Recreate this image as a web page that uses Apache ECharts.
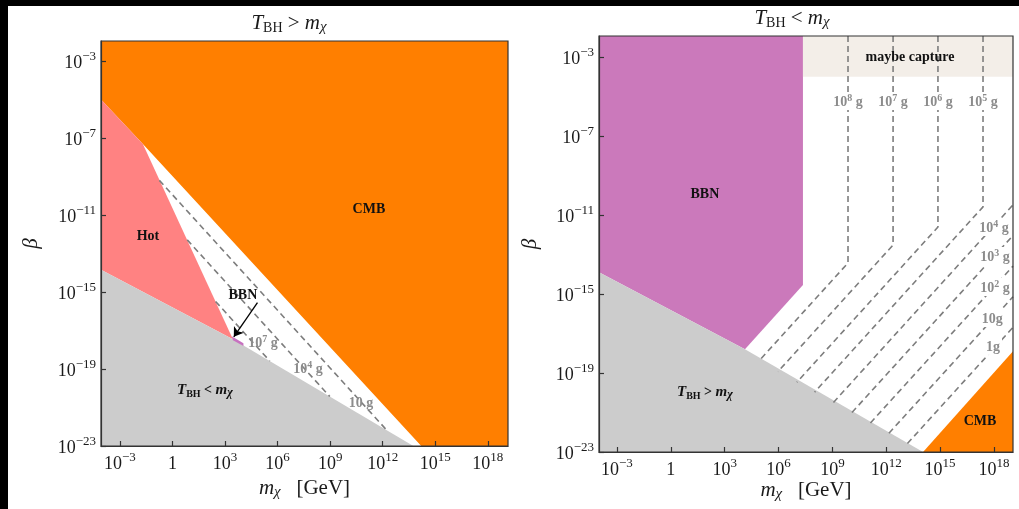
<!DOCTYPE html>
<html>
<head>
<meta charset="utf-8">
<script src="https://cdn.jsdelivr.net/npm/echarts@6/dist/echarts.min.js"></script>
<style>
html, body { margin: 0; padding: 0; background: #fff; }
#chart { width: 1019px; height: 509px; }
</style>
</head>
<body>
<div id="chart"></div>
<script>
// all values are log10: x = log10(m_chi / GeV), y = log10(beta)
const xTicks = [-3, 0, 3, 6, 9, 12, 15, 18]
const yTicks = [-23, -19, -15, -11, -7, -3]

// left panel: T_BH > m_chi
const cmbLeft = [[-4.08, -5.0], [-1.69, -7.31], [14.2, -23], [19.15, -23], [19.15, -1.96], [-4.08, -1.96]]
const hotLeft = [[-4.08, -5.0], [-1.69, -7.31], [3.45, -17.45], [-4.08, -13.85]]
const bbnLeft = [[3.38, -17.3], [4.05, -17.66], [4.05, -17.8], [3.45, -17.5]]
const coldLeft = [[-4.08, -13.85], [3.45, -17.45], [13.75, -23], [-4.08, -23]]
const line1e7Left = [[2.46, -15.49], [5.55, -18.58]]
const line1e4Left = [[0.84, -12.29], [8.98, -20.43]]
const line10Left = [[-0.75, -9.2], [12.23, -22.18]]
const arrowBBN = [[4.85, -15.55], [3.5, -17.33]]
const labelsLeft = [
  [11.21, -10.74, '{bd|CMB}'],
  [-1.4, -12.14, '{bd|Hot}'],
  [4.02, -15.21, '{bd|BBN}'],
  [1.85, -20.14, '{bi|T}{bs|BH}{bd| < }{bi|m}{bis|χ}'],
  [5.16, -17.6, '{g|10}{gs|7}{g| g}'],
  [7.73, -18.95, '{g|10}{gs|4}{g| g}'],
  [10.76, -20.71, '{g|10 g}']
]

// right panel: T_BH < m_chi
const bbnRight = [[-4, -1.94], [7.36, -1.94], [7.36, -14.54], [4.13, -17.8], [-4, -13.9]]
const captureRight = [[7.36, -1.94], [19.06, -1.94], [19.06, -4.0], [7.36, -4.0]]
const coldRight = [[-4, -13.9], [4.13, -17.8], [14.05, -23], [-4, -23]]
const cmbRight = [[14.05, -23], [19.06, -23], [19.06, -17.9]]
const line1e8Right = [[9.87, -1.94], [9.87, -13.43], [4.9, -18.4]]
const line1e7Right = [[12.38, -1.94], [12.38, -12.52], [5.97, -18.93]]
const line1e6Right = [[14.88, -1.94], [14.88, -11.61], [7.02, -19.47]]
const line1e5Right = [[17.39, -1.94], [17.39, -10.59], [8.01, -19.97]]
const line1e4Right = [[9.06, -20.49], [19.06, -10.49]]
const line1e3Right = [[10.09, -21.0], [19.06, -12.04]]
const line1e2Right = [[11.12, -21.53], [19.06, -13.59]]
const line10Right = [[12.15, -22.05], [19.06, -15.14]]
const line1Right = [[13.18, -22.57], [19.06, -16.69]]
const labelsRight = [
  [1.9, -9.99, '{bd|BBN}'],
  [13.32, -3.05, '{bd|maybe capture}'],
  [1.9, -20.01, '{bi|T}{bs|BH}{bd| > }{bi|m}{bis|χ}'],
  [17.22, -21.48, '{bd|CMB}'],
  [9.87, -5.23, '{g|10}{gs|8}{g| g}'],
  [12.38, -5.23, '{g|10}{gs|7}{g| g}'],
  [14.88, -5.23, '{g|10}{gs|6}{g| g}'],
  [17.39, -5.23, '{g|10}{gs|5}{g| g}'],
  [18.0, -11.61, '{g|10}{gs|4}{g| g}'],
  [18.06, -13.08, '{g|10}{gs|3}{g| g}'],
  [18.06, -14.65, '{g|10}{gs|2}{g| g}'],
  [17.9, -16.22, '{g|10g}'],
  [17.95, -17.63, '{g|1g}']
]

const serif = '"Liberation Serif", "DejaVu Serif", serif'
const ink = '#1a1a1a'
const dashGray = '#7d7d7d'
const labelGray = '#8c8c8c'

const tickRich = {
  b: {fontFamily: serif, fontSize: 18, color: ink, lineHeight: 22, verticalAlign: 'bottom'},
  s: {fontFamily: serif, fontSize: 13, color: ink, lineHeight: 13, verticalAlign: 'top'}
}
const mathRich = {
  i: {fontFamily: serif, fontStyle: 'italic', fontSize: 21, fill: ink, color: ink, lineHeight: 22, verticalAlign: 'top'},
  r: {fontFamily: serif, fontSize: 21, fill: ink, color: ink, lineHeight: 22, verticalAlign: 'top'},
  sub: {fontFamily: serif, fontSize: 14, fill: ink, color: ink, lineHeight: 14, padding: [10, 0, 0, 0], verticalAlign: 'bottom'},
  subi: {fontFamily: serif, fontStyle: 'italic', fontSize: 15, fill: ink, color: ink, lineHeight: 14, padding: [10, 0, 0, 0], verticalAlign: 'bottom'}
}
const labelRich = {
  bd: {fontFamily: serif, fontWeight: 'bold', fontSize: 14, fill: '#111', lineHeight: 16, verticalAlign: 'top'},
  bi: {fontFamily: serif, fontWeight: 'bold', fontStyle: 'italic', fontSize: 15, fill: '#111', lineHeight: 16, verticalAlign: 'top'},
  bs: {fontFamily: serif, fontWeight: 'bold', fontSize: 10, fill: '#111', lineHeight: 10, padding: [8, 0, 0, 0], verticalAlign: 'bottom'},
  bis: {fontFamily: serif, fontStyle: 'italic', fontWeight: 'bold', fontSize: 12, fill: '#111', lineHeight: 10, padding: [8, 0, 0, 0], verticalAlign: 'bottom'},
  g: {fontFamily: serif, fontWeight: 'bold', fontSize: 14, fill: labelGray, lineHeight: 16, verticalAlign: 'bottom'},
  gs: {fontFamily: serif, fontWeight: 'bold', fontSize: 10, fill: labelGray, lineHeight: 10, verticalAlign: 'top'}
}

function tickLabel(v) {
  if (v === 0) return '{b|1}'
  return '{b|10}{s|' + String(v).replace('-', '\u2212') + '}'
}

function xAxisFor(idx, min, max, gap) {
  return {
    type: 'value', gridIndex: idx, min: min, max: max, z: 6,
    axisLine: {show: true, onZero: false, lineStyle: {color: '#333', width: 1.2}},
    axisTick: {show: true, inside: true, length: 5, customValues: xTicks, lineStyle: {color: '#333', width: 1.2}},
    axisLabel: {customValues: xTicks, formatter: tickLabel, rich: tickRich, margin: 5},
    splitLine: {show: false},
    name: '{i|m}{subi|χ}{r|   [GeV]}', nameLocation: 'middle', nameGap: gap, nameMoveOverlap: false,
    nameTextStyle: {rich: mathRich}
  }
}

function yAxisFor(idx, min, max, gap) {
  return {
    type: 'value', gridIndex: idx, min: min, max: max, z: 6,
    axisLine: {show: true, onZero: false, lineStyle: {color: '#333', width: 1.2}},
    axisTick: {show: true, inside: true, length: 5, customValues: yTicks, lineStyle: {color: '#333', width: 1.2}},
    axisLabel: {customValues: yTicks, formatter: tickLabel, rich: tickRich, margin: 5},
    splitLine: {show: false},
    name: '{i|β}', nameLocation: 'middle', nameRotate: 90, nameGap: gap, nameMoveOverlap: false,
    nameTextStyle: {rich: mathRich}
  }
}

function areaSeries(idx, pts, color) {
  return {
    type: 'custom', xAxisIndex: idx, yAxisIndex: idx, z: 1, silent: true,
    data: pts,
    renderItem(params, api) {
      if (params.dataIndex !== 0) return null
      return {type: 'polygon', shape: {points: pts.map(p => api.coord(p))}, style: {fill: color}}
    }
  }
}

function dashSeries(idx, pts) {
  return {
    type: 'line', xAxisIndex: idx, yAxisIndex: idx, z: 2, silent: true,
    data: pts, symbol: 'none',
    lineStyle: {color: dashGray, width: 1.6, type: [6, 4]}
  }
}

function textSeries(idx, items, masked) {
  return {
    type: 'custom', xAxisIndex: idx, yAxisIndex: idx, z: 4, silent: true,
    data: items.map(d => [d[0], d[1]]),
    renderItem(params, api) {
      const d = items[params.dataIndex]
      const p = api.coord([d[0], d[1]])
      const bg = masked && d[2].indexOf('{g') === 0
      return {
        type: 'text', x: p[0], y: p[1],
        style: {
          text: d[2], rich: labelRich, align: 'center', verticalAlign: 'middle',
          backgroundColor: bg ? '#fff' : null, padding: bg ? [1, 2] : 0
        }
      }
    }
  }
}

const chart = echarts.init(document.getElementById('chart'))

const gridBase = {show: true, borderColor: '#333', borderWidth: 1.2, backgroundColor: 'transparent', z: 5, containLabel: false, outerBoundsMode: 'none'}

chart.setOption({
  animation: false,
  backgroundColor: '#fff',
  grid: [
    Object.assign({left: 101, top: 41, width: 407, height: 405}, gridBase),
    Object.assign({left: 599, top: 36, width: 414, height: 416}, gridBase)
  ],
  xAxis: [xAxisFor(0, -4.08, 19.15, 32), xAxisFor(1, -4.0, 19.06, 28)],
  yAxis: [yAxisFor(0, -23, -1.96, 58), yAxisFor(1, -23, -1.94, 57)],
  graphic: [
    {type: 'rect', shape: {x: 0, y: 0, width: 1019, height: 6}, style: {fill: '#000'}},
    {type: 'rect', shape: {x: 0, y: 0, width: 8, height: 509}, style: {fill: '#000'}},
    {type: 'text', x: 289, y: 24, style: {text: '{i|T}{sub|BH}{r| > }{i|m}{subi|χ}', rich: mathRich, align: 'center', verticalAlign: 'middle'}},
    {type: 'text', x: 792, y: 19, style: {text: '{i|T}{sub|BH}{r| < }{i|m}{subi|χ}', rich: mathRich, align: 'center', verticalAlign: 'middle'}}
  ],
  series: [
    areaSeries(0, cmbLeft, '#ff7f00'),
    areaSeries(0, hotLeft, '#ff8282'),
    areaSeries(0, coldLeft, '#cccccc'),
    areaSeries(0, bbnLeft, '#c772c0'),
    dashSeries(0, line1e7Left),
    dashSeries(0, line1e4Left),
    dashSeries(0, line10Left),
    {
      type: 'line', xAxisIndex: 0, yAxisIndex: 0, data: [], z: 3,
      markLine: {
        silent: true, symbol: ['none', 'arrow'], symbolSize: 9,
        lineStyle: {color: '#000', width: 1.3, type: 'solid'},
        label: {show: false},
        data: [[{coord: arrowBBN[0]}, {coord: arrowBBN[1]}]]
      }
    },
    textSeries(0, labelsLeft, false),

    areaSeries(1, bbnRight, '#cb79bb'),
    areaSeries(1, captureRight, '#f3eee8'),
    areaSeries(1, coldRight, '#cccccc'),
    areaSeries(1, cmbRight, '#ff7f00'),
    dashSeries(1, line1e8Right),
    dashSeries(1, line1e7Right),
    dashSeries(1, line1e6Right),
    dashSeries(1, line1e5Right),
    dashSeries(1, line1e4Right),
    dashSeries(1, line1e3Right),
    dashSeries(1, line1e2Right),
    dashSeries(1, line10Right),
    dashSeries(1, line1Right),
    textSeries(1, labelsRight, true)
  ]
})
</script>
</body>
</html>
